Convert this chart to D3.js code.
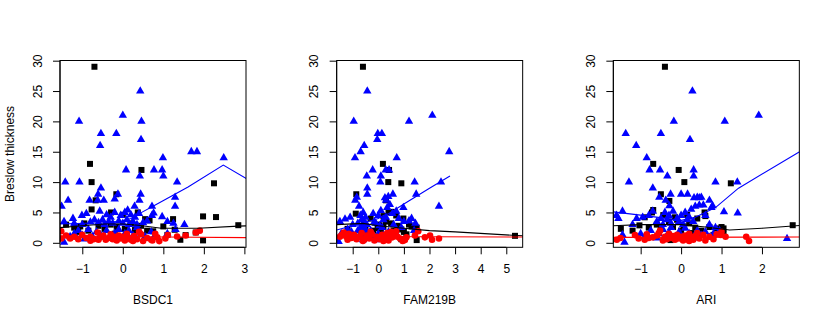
<!DOCTYPE html>
<html><head><meta charset="utf-8">
<script src="https://cdn.jsdelivr.net/npm/d3@7"></script>
<style>body{margin:0;background:#fff}svg{display:block}text{font-family:"Liberation Sans",Arial,Helvetica,sans-serif;font-size:12px;fill:#000}</style>
</head><body>
<script>
// ---------- data ----------
const panelNames = ["BSDC1", "FAM219B", "ARI"];
const xDomains = [[-1.55, 3.04], [-1.626, 5.64], [-1.676, 2.924]];
const xTickValues = [[-1, 0, 1, 2, 3], [-1, 0, 1, 2, 3, 4, 5], [-1, 0, 1, 2]];
const yTickValues = [0, 5, 10, 15, 20, 25, 30];
const yLabel = "Breslow thickness";

const blue1 = [[0.43,25],[-1.08,20],[0.0,21],[0.46,20],[-0.54,18],[-0.16,18],[0.45,17],[-0.56,16],
[0.99,14],[1.69,15],[1.83,15],[2.49,14],[0.08,12],[0.77,12],[0.97,12],[0.42,11],[1.0,11],
[-1.42,10],[-1.07,10],[1.34,10],[-0.54,9],[-0.61,8],[-0.12,8],[0.44,8],
[-1.35,7],[-0.82,7],[-0.62,7],[-0.47,7],[-0.2,7.2],[0.41,7],[1.29,7.5],
[-1.51,6],[0.29,6],[0.72,6],[1.29,6],
[-1.23,4],[-1.01,4.5],[-0.57,5.2],[0.12,5.4],[-0.9,4.8],[-0.4,4.6],[-0.3,4.2],[-0.2,5],[-0.05,4.5],[0.05,5],[0.2,4.6],[0.3,4.2],[0.4,4.8],[0.72,4.5],[0.76,4.9],[0.97,4.3],[1.25,3.2],[1.52,3],[1.1,3.5],[0.6,3.6],
[-1.45,3.5],[-1.2,3.2],[-1,3],[-0.8,3.4],[-0.7,3.8],[-0.6,3.3],[-0.5,3.8],[-0.45,3],[-0.35,3.5],[-0.25,3.2],[-0.1,3.6],[0,3.2],[0.1,3.8],[0.15,3],[0.25,3.5],[0.35,3],[0.5,3.3],
[-1.45,0.1],[-1.3,1],[-1.2,1.5],[-1.1,2],[-1,1.2],[-0.85,2.2],[-0.75,1],[-0.65,1.8],[-0.55,1.3],[-0.4,2],[-0.3,1],[-0.2,1.6],[-0.1,2.2],[0,0.8],[0.05,1.5],[0.15,2],[0.25,1.2],[0.35,2.5],[0.45,1.5],[0.55,1],[0.7,1.8],[0.8,1.3],[1.1,1.5],[1.3,2.2],[-0.95,0.6],[0.1,0.7]];
const black1 = [[-0.70,29],[-0.81,13],[0.46,12],[-0.77,10],[2.25,9.8],[-0.16,8],[-0.67,7],[-0.77,5.5],[-0.29,5],[0.37,5],[0.55,3.9],[0.66,3.7],[1.24,3.9],[1.98,4.35],[2.3,4.24],[2.85,2.9],[1.8,1.7],[1.98,0.4],[1.42,0.5],[1.55,1.27],[1.0,2.7],[1.28,2.15],
[-1.4,3.0],[-1.2,2.5],[-1.05,2.7],[-0.95,3.2],[-0.85,2.0],[-0.6,2.8],[-0.45,2.3],[-0.3,3.0],[-0.15,2.6],[0.0,4.6],[0.05,2.3],[0.2,3.2],[0.3,2.1],[0.45,2.8],[0.6,2.0],[0.75,1.9],[-1.1,1.8],[-0.2,1.5],[0.1,1.4],[1.1,1.3]];
const red1 = [[-1.52,1.9],[-1.52,0.7],[-1.3,0.7],[-1.2,1.0],[-1.1,0.6],[-1.0,1.3],[-0.9,0.8],[-0.8,1.0],[-0.72,0.6],[-0.62,1.7],[-0.55,0.9],[-0.48,1.2],[-0.42,0.5],[-0.35,0.8],[-0.3,1.4],[-0.25,0.6],[-0.2,1.0],[-0.15,0.4],[-0.1,1.2],[-0.05,0.7],[0.0,1.0],[0.05,0.4],[0.1,1.5],[0.15,0.8],[0.2,0.5],[0.28,1.1],[0.35,0.6],[0.45,1.4],[0.5,0.3],[0.6,0.8],[0.7,0.5],[0.73,0.4],[0.85,0.9],[0.9,0.28],[1.05,0.7],[1.11,1.27],[1.34,1.05],[1.55,1.2],[1.8,1.7],[1.9,2.0],[-1.4,1.2],[-0.8,0.35],[0.25,0.3],[0.4,1.8],[-0.6,0.5],[0.8,1.5]];

const blue2 = [[-0.43,25],[-0.96,20],[1.2,20],[2.11,21],[-0.02,18],[0.14,18],[-0.04,17],[-0.55,16],[-0.69,15],[-0.91,14],[0.72,14],[2.77,15],
[-0.22,12],[0.29,12],[0.42,12],[-0.45,11],[0.1,11],[2.45,10],[1.42,10],[0.08,10],[-0.43,9],[-0.43,8],[0.57,8],[1.48,8],[-0.9,7],[0.26,7.4],[0.39,7.6],[-0.84,7.5],[0.3,7],[2.37,6],[0.98,5.8],[-0.75,6],
[-0.59,5],[-0.7,4.5],[-0.5,4.2],[-0.65,3.8],[-0.55,3.5],[-0.8,3.2],[-0.45,3],[-0.6,2.8],[-0.7,2.5],[-0.5,2.2],[-0.8,2],[-0.55,1.8],[-0.65,1.5],[-0.4,1.3],[-0.75,1],[-0.5,0.8],[-0.6,0.5],
[-1.5,3.5],[-1.3,3.9],[-1.1,4.2],[-1.0,3.0],[-1.2,2.2],[-1.45,1.5],[-1.55,0.2],[-0.95,1.0],[-1.05,1.8],[-0.2,4.8],[-0.1,3.2],[0,4.5],[0.1,5.3],[0.2,3.8],[0.35,5.8],[0.45,6.3],[0.55,4.8],[0.6,3.0],[0.8,4.0],[1.3,4.0],[1.45,3.2],[1.2,3.6],[0.9,2.5],[-0.3,2.0],[-0.2,1.0],[0,1.5],[0.15,2.5],[0.25,0.8],[0.4,1.8],[0.5,1.1],[0.7,1.5],[1.0,3.5],[1.4,2.0],[-0.15,3.5],[0.05,2.8],[0.3,4.2],[0.7,5.2],[0.2,1.2],[-0.1,0.5]];
const black2 = [[-0.6,29],[0.18,13],[0.42,12],[0.39,10],[0.9,9.8],[-0.86,8],[0.3,7],[0.52,5.1],[-0.88,4.8],[0.98,4.0],[-0.02,3.0],[-0.02,2.4],[1.5,0.45],[5.34,1.15],[1.3,2.7],[0.4,5],[0.6,5],[0.7,4.5],[0.3,3.5],[0.5,3.2],[0.8,2.8],[0.9,2.2],[1.2,3.0],[1.5,2.5],[-0.3,4.0],[-0.2,2.0],[0.1,2.0],[0.2,2.6],[0.6,2.0],[0.75,2.7],[1.0,1.8],[-0.5,2.5],[-0.7,2.0],[-1.2,2.3],[0.4,1.5],[1.1,1.4],[0.2,4.4],[0.05,2.9],[0.9,0.6]];
const red2 = [[-1.43,1.27],[-1.35,1.7],[-1.25,1.0],[-1.15,1.5],[-1.05,0.8],[-0.95,1.3],[-0.85,0.6],[-0.75,1.0],[-0.65,1.6],[-0.55,0.5],[-0.45,1.2],[-0.35,0.7],[-0.25,1.4],[-0.15,0.4],[-0.05,1.0],[0.05,0.6],[0.15,1.3],[0.25,0.8],[0.35,1.6],[0.45,1.1],[0.5,1.8],[0.55,0.9],[0.6,1.4],[0.65,1.2],[0.7,1.9],[0.75,1.0],[0.85,0.7],[0.95,0.3],[1.04,0.45],[1.1,0.9],[1.43,1.2],[1.56,1.9],[1.82,0.9],[2.02,1.2],[2.1,0.5],[2.37,0.7],[-1.5,1.0],[-0.6,0.3],[0.2,0.3],[-1.2,0.5],[0.4,0.4],[-0.3,1.8]];

const blue3 = [[0.28,25],[-0.18,20],[1.08,20],[1.92,21],[-1.37,18],[-0.5,18],[0.22,17],[-1.11,16],[-0.85,14],[-0.78,12],[-0.52,12],[0.31,12],[0.31,11],[-0.34,11],[-1.29,10],[0.85,10],[1.39,10],[-0.7,9],[-0.26,8],[0.0,8],[0.16,8],[0.4,7.5],[0.5,7.5],[0.7,7],[-0.38,7],[0.32,7.4],[0.45,7.4],[0.78,6.1],[-0.29,6.1],[-0.54,7.5],[1.06,5.1],[1.4,4.9],[2.62,0.7],
[-1.6,4.5],[-1.55,4],[-1.45,5.2],[-1.2,3],[-1.1,4],[-0.95,4.2],[-0.8,4.5],[-0.7,5.2],[-0.6,3.5],[-0.5,4],[-0.45,3],[-0.4,5],[-0.35,3.8],[-0.3,4.5],[-0.25,3.2],[-0.2,5.2],[-0.1,4],[-0.05,3.5],[0,4.5],[0.05,3],[0.1,5],[0.15,3.8],[0.2,4.2],[0.25,5.5],[0.3,3.5],[0.35,6],[0.45,6.2],[0.55,6.2],[0.6,4.5],[0.7,3],[0.75,5.8],[0.85,2.5],[0.95,2.0],[-1.45,1.3],[-1.4,0.1],[-1.0,1.5],[-0.9,1.0],[-0.75,2.0],[-0.6,0.8],[-0.55,1.5],[-0.45,2.2],[-0.35,1.2],[-0.25,2.5],[-0.15,0.7],[-0.05,1.8],[0.0,1.0],[0.1,2.4],[0.2,1.5],[0.3,0.8],[0.4,2.0],[0.5,1.2],[0.6,1.8],[0.7,0.9],[0.8,1.5],[-0.3,1.7],[0.15,0.6]];
const black3 = [[-0.4,29],[-0.69,13],[-0.06,12],[0.08,10],[1.23,9.8],[-0.5,8],[-0.29,6.9],[0.58,5.0],[0.6,4.4],[-0.69,5.4],[-0.72,5.0],[-0.44,4.56],[-1.49,2.3],[-1.03,2.87],[-1.2,2.0],[0.06,2.7],[0.88,2.37],[1.05,2.37],[-0.26,0.45],[2.76,2.9],[1.05,1.5],[-0.9,4.2],[-0.3,3.5],[-0.1,3.8],[0.2,3.2],[0.35,2.5],[0.5,2.0],[0.7,2.6],[0.95,2.0],[-0.6,3.0],[-0.5,2.3],[-0.2,2.6],[0.0,2.0],[0.25,1.6],[0.4,4.0],[-0.8,2.5],[0.8,1.3],[1.0,2.6],[-0.15,4.2],[0.15,4.6]];
const red3 = [[-1.59,0.5],[-1.5,0.8],[-1.14,1.27],[-1.05,0.7],[-0.9,0.5],[-0.85,1.4],[-0.7,0.9],[-0.6,1.2],[-0.52,2.0],[-0.45,0.4],[-0.4,1.0],[-0.35,0.6],[-0.3,1.5],[-0.25,0.8],[-0.2,1.1],[-0.15,0.5],[-0.1,1.3],[-0.05,0.7],[0.0,1.0],[0.05,0.4],[0.1,1.2],[0.15,0.6],[0.2,1.5],[0.25,0.9],[0.3,0.5],[0.35,1.1],[0.45,0.7],[0.55,1.3],[0.6,0.4],[0.7,1.0],[0.8,0.6],[0.88,1.4],[0.98,1.3],[1.0,1.8],[1.1,1.0],[1.61,1.0],[1.68,0.3],[-0.8,0.8],[0.4,1.6],[-0.55,1.6],[0.2,0.3]];

// smoother lines
const blueLine1 = [[-1.56,3.1],[-0.5,3.3],[0,3.6],[0.2,4.0],[0.42,4.85],[0.79,6.2],[1.61,9.2],[2.48,12.8],[3.1,10.4]];
const blackLine1 = [[-1.56,2.5],[-1.0,2.8],[-0.45,3.1],[0.0,3.1],[0.38,2.9],[0.95,2.4],[1.86,2.4],[2.85,2.75],[3.1,2.8]];
const redLine1 = [[-1.56,1.1],[0,1.05],[1,0.95],[3.1,0.85]];
const blueLine2 = [[-1.63,2.1],[-1.0,2.8],[-0.5,3.4],[0,4.0],[0.2,4.5],[0.4,4.8],[1.0,6.4],[2.0,9.0],[2.8,11.0]];
const blackLine2 = [[-1.63,3.0],[-0.6,3.2],[0,2.8],[1.0,2.4],[2.0,2.0],[3.0,1.8],[5.4,1.2],[5.7,1.15]];
const redLine2 = [[-1.63,1.05],[2,1.0],[5.7,0.95]];
const blueLine3 = [[-1.68,5.1],[-0.8,4.4],[0,3.7],[0.35,4.2],[0.85,5.8],[1.42,9.0],[2.93,15.0]];
const blackLine3 = [[-1.68,2.8],[-1.0,3.0],[0,3.0],[0.6,2.6],[1.2,2.1],[2.0,2.4],[2.93,2.85]];
const redLine3 = [[-1.68,0.9],[2.93,0.95]];

// ---------- layout ----------
const W = 830, H = 323;
const boxTop = 60.5, boxBottom = 247.3, boxW = 186;
const boxLefts = [60, 336.67, 613.33];
const BLUE = "#0000FF", RED = "#FF0000", BLACK = "#000000";

const panels = [
  {blue: blue1, black: black1, red: red1, lines: [blueLine1, blackLine1, redLine1]},
  {blue: blue2, black: black2, red: red2, lines: [blueLine2, blackLine2, redLine2]},
  {blue: blue3, black: black3, red: red3, lines: [blueLine3, blackLine3, redLine3]}
];

const svg = d3.select("body").append("svg").attr("width", W).attr("height", H);
const y = d3.scaleLinear().domain([-0.74, 30.03]).range([boxBottom, boxTop]);

const tri = "M0,-4.9L4.2,2.45L-4.2,2.45Z";

panels.forEach((p, i) => {
  const L = boxLefts[i];
  const x = d3.scaleLinear().domain(xDomains[i]).range([L, L + boxW]);
  const clipId = "clip" + i;
  svg.append("clipPath").attr("id", clipId).append("rect")
    .attr("x", L).attr("y", boxTop).attr("width", boxW).attr("height", boxBottom - boxTop);
  const g = svg.append("g").attr("clip-path", `url(#${clipId})`);

  g.selectAll(".k").data(p.black).enter().append("rect")
    .attr("x", d => x(d[0]) - 3).attr("y", d => y(d[1]) - 3)
    .attr("width", 6).attr("height", 6).attr("fill", BLACK);
  g.selectAll(".b").data(p.blue).enter().append("path")
    .attr("d", tri).attr("fill", BLUE)
    .attr("transform", d => `translate(${x(d[0])},${y(d[1])})`);
  g.selectAll(".r").data(p.red).enter().append("circle")
    .attr("cx", d => x(d[0])).attr("cy", d => y(d[1])).attr("r", 3.3).attr("fill", RED);

  const line = d3.line().x(d => x(d[0])).y(d => y(d[1]));
  [BLUE, BLACK, RED].forEach((c, j) => {
    g.append("path").attr("d", line(p.lines[j])).attr("fill", "none")
      .attr("stroke", c).attr("stroke-width", 1.1);
  });

  // box
  svg.append("rect").attr("x", L).attr("y", boxTop).attr("width", boxW)
    .attr("height", boxBottom - boxTop).attr("fill", "none").attr("stroke", "#000").attr("stroke-width", 1);

  // x axis
  const xa = svg.append("g").attr("transform", `translate(0,${boxBottom})`)
    .call(d3.axisBottom(x).tickValues(xTickValues[i]).tickSize(7).tickSizeOuter(0)
      .tickFormat(d => (d < 0 ? "\u2212" + Math.abs(d) : String(d))));
  xa.select(".domain").attr("d", `M${x(xTickValues[i][0])},0H${x(xTickValues[i][xTickValues[i].length - 1])}`);
  xa.selectAll("text").attr("y", 26).attr("dy", null);
  xa.attr("font-size", null).attr("font-family", null);

  // y axis
  const ya = svg.append("g").attr("transform", `translate(${L},0)`)
    .call(d3.axisLeft(y).tickValues(yTickValues).tickSize(7).tickSizeOuter(0));
  ya.select(".domain").attr("d", `M0,${y(0)}V${y(30)}`);
  ya.selectAll("text").attr("x", null).attr("dy", null).attr("text-anchor", "middle")
    .attr("transform", "translate(-18.5,0) rotate(-90)");
  ya.attr("font-size", null).attr("font-family", null);

  // titles
  svg.append("text").attr("x", L + boxW / 2).attr("y", 304).attr("text-anchor", "middle").text(panelNames[i]);
  if (i === 0) {
    svg.append("text").attr("transform", `translate(14,${(boxTop + boxBottom) / 2}) rotate(-90)`)
      .attr("text-anchor", "middle").text(yLabel);
  }
});
</script>
</body></html>
